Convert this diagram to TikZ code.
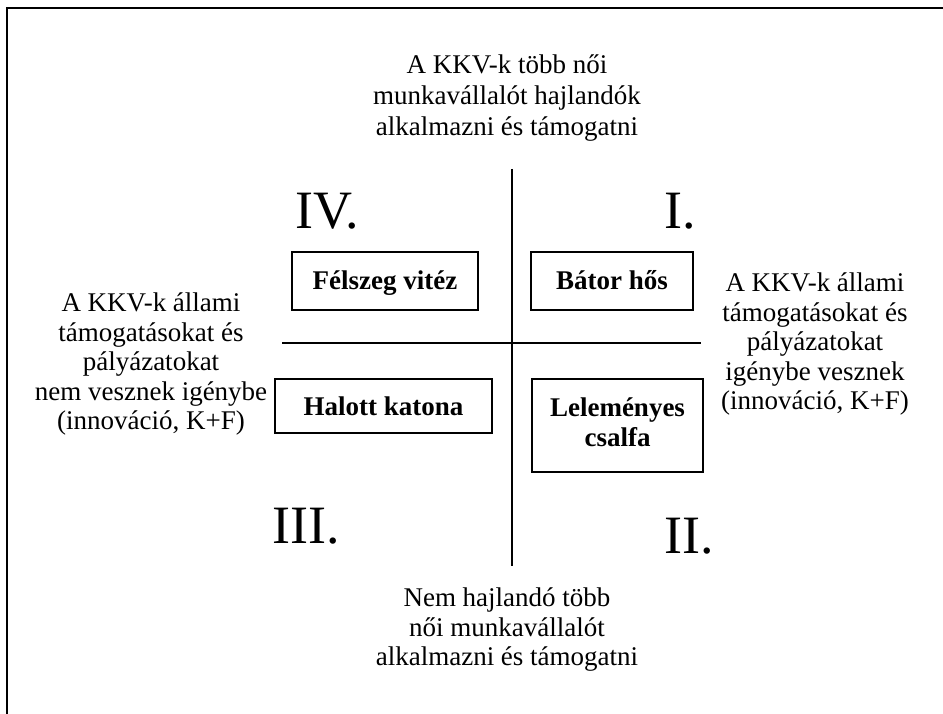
\documentclass[tikz,border=0pt]{standalone}
\usepackage{fontspec}
\setmainfont{Liberation Serif}
\begin{document}
\begin{tikzpicture}[x=1pt,y=-1pt,
  frame/.style={line width=2.6pt},
  axis/.style={line width=1.5pt},
  label/.style={font=\fontsize{27}{29.5}\selectfont, align=center, inner sep=0pt, anchor=north},
  toplabel/.style={label, font=\fontsize{27}{31}\selectfont},
  quad/.style={font=\fontsize{54}{60}\selectfont, inner sep=0pt, anchor=base west},
  card/.style={draw, line width=1.5pt, inner sep=0pt, align=center,
    font=\bfseries\fontsize{27}{30}\selectfont},
  oneline/.style={card, text height=21pt, text depth=3pt}
]
\useasboundingbox (0,0) rectangle (943,714);

% open frame: top and left edges only
\draw[frame] (943,8) -- (7,8) -- (7,714);

% axes
\coordinate (vtop) at (512,169);
\coordinate (vbot) at (512,566);
\coordinate (hleft) at (282,343);
\coordinate (hright) at (701,343);
\draw[axis] (vtop) -- (vbot);
\draw[axis] (hleft) -- (hright);

% axis descriptions
\node[toplabel] (north) at (507,52) {\strut A KKV-k több női\\munkavállalót hajlandók\\alkalmazni és támogatni};
\node[label] (south) at (507,586) {\strut Nem hajlandó több\\női munkavállalót\\alkalmazni és támogatni};
\node[label] (west) at (151,291) {\strut A KKV-k állami\\támogatásokat és\\pályázatokat\\nem vesznek igénybe\\(innováció, K+F)};
\node[label] (east) at (815,271) {\strut A KKV-k állami\\támogatásokat és\\pályázatokat\\igénybe vesznek\\(innováció, K+F)};

% quadrant numbers
\node[quad] (q4) at (295,229) {IV.};
\node[quad] (q1) at (664,229) {I.};
\node[quad] (q3) at (272,543) {III.};
\node[quad] (q2) at (664,553) {II.};

% quadrant boxes
\node[oneline, minimum width=186pt, minimum height=58pt] (felszeg) at (385,281) {Félszeg vitéz};
\node[oneline, minimum width=162pt, minimum height=58pt] (bator) at (612,281) {Bátor hős};
\node[oneline, minimum width=217pt, minimum height=54pt] (halott) at (383.5,406) {Halott katona};
\node[card, minimum width=171pt, minimum height=93pt] (leleme) at (617.5,425.5) {\strut Leleményes\\csalfa\strut};
\end{tikzpicture}
\end{document}
